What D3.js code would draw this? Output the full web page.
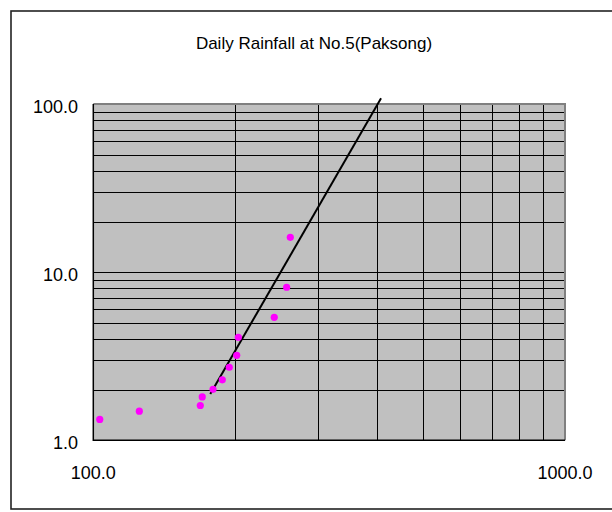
<!DOCTYPE html>
<html>
<head>
<meta charset="utf-8">
<script src="https://cdn.jsdelivr.net/npm/d3@7"></script>
<style>
  body { margin: 0; background: #fff; }
  text { font-family: "Liberation Sans", Arial, sans-serif; fill: #000; }
</style>
</head>
<body>
<svg id="chart" width="612" height="512"></svg>
<script>

// rainfall (x) and return value (y)

var rainfall = [103.2, 125.2, 168.6, 170.2, 179.4, 187.7, 194.2, 201.4, 203.0, 241.9, 257.0, 261.6];
var returnValue = [1.33, 1.49, 1.61, 1.81, 2.01, 2.29, 2.72, 3.20, 4.10, 5.39, 8.13, 16.1];

// fitted line end points

var fitX = [177.0, 407.4];
var fitY = [1.885, 108.1];

// tick labels

var xTicks = [100, 1000];
var yTicks = [1, 10, 100];
var title = 'Daily Rainfall at No.5(Paksong)';

var svg = d3.select('#chart');

// outer frame

svg.append('rect')
  .attr('x', 11).attr('y', 11)
  .attr('width', 603).attr('height', 498)
  .attr('fill', 'none')
  .attr('stroke', '#222')
  .attr('stroke-width', 1.6);

// scales

var x = d3.scaleLog().domain([100, 1000]).range([93.3, 565]);
var y = d3.scaleLog().domain([1, 100]).range([440.3, 104]);

// plot area

svg.append('rect')
  .attr('x', x(100)).attr('y', y(100))
  .attr('width', x(1000) - x(100)).attr('height', y(1) - y(100))
  .attr('fill', '#c0c0c0');

// grid lines at every log step

var xGrid = x.ticks().filter(function(d) { return d > 100 && d < 1000; });
var yGrid = y.ticks().filter(function(d) { return d > 1 && d < 100; });

svg.selectAll('.vgrid')
  .data(xGrid)
  .enter().append('line')
  .attr('class', 'vgrid')
  .attr('x1', function(d) { return Math.round(x(d)) + 0.5; })
  .attr('x2', function(d) { return Math.round(x(d)) + 0.5; })
  .attr('y1', y(100)).attr('y2', y(1))
  .attr('stroke', '#000').attr('stroke-width', 1);

svg.selectAll('.hgrid')
  .data(yGrid)
  .enter().append('line')
  .attr('class', 'hgrid')
  .attr('y1', function(d) { return Math.round(y(d)) + 0.5; })
  .attr('y2', function(d) { return Math.round(y(d)) + 0.5; })
  .attr('x1', x(100)).attr('x2', x(1000))
  .attr('stroke', '#000').attr('stroke-width', 1);

// plot border: grey on top and right, black axes on left and bottom

svg.append('path')
  .attr('d', 'M' + x(100) + ',' + y(100) + 'H' + x(1000) + 'V' + y(1))
  .attr('fill', 'none').attr('stroke', '#808080').attr('stroke-width', 2);

svg.append('path')
  .attr('d', 'M' + x(100) + ',' + y(100) + 'V' + y(1) + 'H' + x(1000))
  .attr('fill', 'none').attr('stroke', '#000').attr('stroke-width', 1.5);

// title

svg.append('text')
  .attr('x', 314).attr('y', 49)
  .attr('text-anchor', 'middle')
  .style('font-size', '17px')
  .text(title);

// y tick labels

svg.selectAll('.ylab')
  .data(yTicks)
  .enter().append('text')
  .attr('class', 'ylab')
  .attr('x', 78)
  .attr('y', function(d) { return y(d) + 9; })
  .attr('text-anchor', 'end')
  .style('font-size', '18px')
  .text(function(d) { return d.toFixed(1); });

// x tick labels

svg.selectAll('.xlab')
  .data(xTicks)
  .enter().append('text')
  .attr('class', 'xlab')
  .attr('x', function(d) { return x(d); })
  .attr('y', 478.5)
  .attr('text-anchor', 'middle')
  .style('font-size', '18px')
  .text(function(d) { return d.toFixed(1); });

// fitted line

svg.append('line')
  .attr('x1', x(fitX[0])).attr('y1', y(fitY[0]))
  .attr('x2', x(fitX[1])).attr('y2', y(fitY[1]))
  .attr('stroke', '#000').attr('stroke-width', 2);

// points

svg.selectAll('.pt')
  .data(rainfall)
  .enter().append('circle')
  .attr('class', 'pt')
  .attr('cx', function(d) { return x(d); })
  .attr('cy', function(d, i) { return y(returnValue[i]); })
  .attr('r', 3.6)
  .attr('fill', '#ff00ff');

</script>
</body>
</html>
